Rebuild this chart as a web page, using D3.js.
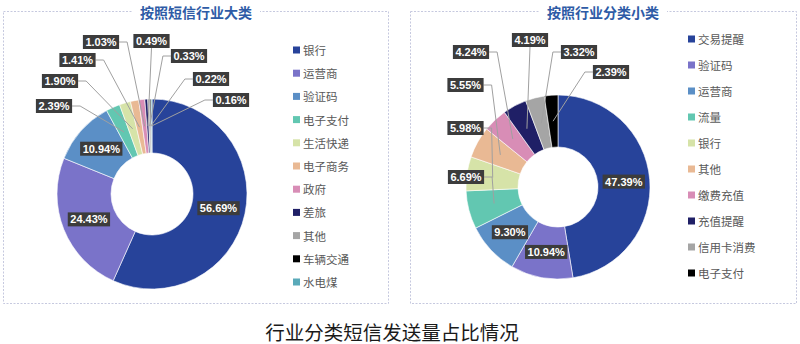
<!DOCTYPE html>
<html>
<head>
<meta charset="utf-8">
<script src="https://cdn.jsdelivr.net/npm/d3@7"></script>
<style>
  html, body { margin: 0; padding: 0; background: #fff; }
  svg { display: block; font-family: "Noto Sans CJK SC", "Noto Sans", sans-serif; }
</style>
</head>
<body>
<svg id="chart" width="800" height="344"></svg>
<script>
// ---------------- data ----------------
const leftTitle = "按照短信行业大类";
const leftCategories = ["银行", "运营商", "验证码", "电子支付", "生活快递", "电子商务", "政府", "差旅", "其他", "车辆交通", "水电煤"];
const leftValues = [56.69, 24.43, 10.94, 2.39, 1.90, 1.41, 1.03, 0.49, 0.33, 0.22, 0.16];

const rightTitle = "按照行业分类小类";
const rightCategories = ["交易提醒", "验证码", "运营商", "流量", "银行", "其他", "缴费充值", "充值提醒", "信用卡消费", "电子支付"];
const rightValues = [47.39, 10.94, 9.30, 6.69, 5.98, 5.55, 4.24, 4.19, 3.32, 2.39];

const caption = "行业分类短信发送量占比情况";

// ---------------- styles / layout ----------------
const leftColors = ["#27439a", "#7a73c9", "#5b8fc6", "#62c7b1", "#d6e3a8", "#e9b994", "#d88db6", "#1f1f66", "#a5a5a5", "#000000", "#5aaab9"];
const rightColors = ["#27439a", "#7a73c9", "#5b8fc6", "#62c7b1", "#d6e3a8", "#e9b994", "#d88db6", "#1f1f66", "#a5a5a5", "#000000"];

// outside label offsets (relative to donut centre) for small slices
const leftLabelOffsets = {3: [-98, -88], 4: [-92, -113], 5: [-74.5, -134], 6: [-51, -152], 7: [-0.5, -153], 8: [37, -138], 9: [59, -115], 10: [79, -94]};
const rightLabelOffsets = {3: [-92, -10], 4: [-92.5, -59], 5: [-92.5, -102], 6: [-87, -135], 7: [-28, -147], 8: [21, -135], 9: [53, -115]};

const svg = d3.select("#chart");

function drawPanel(cfg) {
  const g = svg.append("g");
  // dotted frame
  g.append("rect")
    .attr("x", cfg.box[0] + 0.5).attr("y", cfg.box[1] + 0.5)
    .attr("width", cfg.box[2]).attr("height", cfg.box[3])
    .attr("fill", "none").attr("stroke", "#c6c9df")
    .attr("stroke-width", 1).attr("stroke-dasharray", "2,1.5");

  // title with white backdrop
  const t = g.append("text")
    .attr("x", cfg.titleX).attr("y", 18)
    .attr("text-anchor", "middle")
    .attr("font-size", 14).attr("font-weight", "bold")
    .attr("fill", "#2e5ba6")
    .text(cfg.title);
  const tb = t.node().getBBox();
  g.insert("rect", "text")
    .attr("x", tb.x - 8).attr("y", 4).attr("width", tb.width + 16).attr("height", 16)
    .attr("fill", "#fff");

  const pie = d3.pie().sort(null).value(d => d);
  const arcs = pie(cfg.values);
  const arc = d3.arc().innerRadius(cfg.r).outerRadius(cfg.R);
  const mid = (cfg.R + cfg.r) / 2;
  const cArc = d3.arc().innerRadius(mid).outerRadius(mid);

  const dg = g.append("g").attr("transform", `translate(${cfg.cx},${cfg.cy})`);
  dg.selectAll("path.slice").data(arcs).join("path")
    .attr("class", "slice")
    .attr("d", arc)
    .attr("fill", (d, i) => cfg.colors[i])
    .attr("stroke", "#ffffff").attr("stroke-width", 0.6);

  const lineG = dg.append("g");
  const labG = dg.append("g");

  arcs.forEach((d, i) => {
    const txt = cfg.values[i].toFixed(2) + "%";
    const c = cArc.centroid(d);
    let L;
    const off = cfg.offsets[i];
    if (off) L = off; else L = c;
    const lab = labG.append("g");
    const te = lab.append("text")
      .attr("x", L[0]).attr("y", L[1])
      .attr("text-anchor", "middle").attr("dominant-baseline", "central")
      .attr("font-family", "'Liberation Sans', Arial, sans-serif")
      .attr("font-size", 11).attr("font-weight", "bold")
      .attr("fill", "#ffffff")
      .text(txt);
    const w = te.node().getComputedTextLength() + 5;
    const h = 14;
    lab.insert("rect", "text")
      .attr("x", L[0] - w / 2).attr("y", L[1] - h / 2)
      .attr("width", w).attr("height", h)
      .attr("fill", "#3c3c3c");
    if (off) {
      let pts;
      if (Math.abs(L[0] - c[0]) < w / 2 + 2) {
        pts = [[L[0], L[1] + h / 2], c];
      } else if (L[0] < c[0]) {
        pts = [[L[0] + w / 2, L[1]], [L[0] + w / 2 + 8, L[1]], c];
      } else {
        pts = [[L[0] - w / 2, L[1]], [L[0] - w / 2 - 8, L[1]], c];
      }
      lineG.append("path")
        .attr("d", d3.line()(pts))
        .attr("fill", "none").attr("stroke", "#a0a0a0").attr("stroke-width", 1);
    }
  });

  // legend
  const lg = g.append("g");
  cfg.categories.forEach((name, i) => {
    const y = cfg.legY + i * cfg.legStep;
    lg.append("rect")
      .attr("x", cfg.legX).attr("y", y - 3.5).attr("width", 7).attr("height", 7)
      .attr("fill", cfg.colors[i]);
    lg.append("text")
      .attr("x", cfg.legX + 10).attr("y", y)
      .attr("dominant-baseline", "central")
      .attr("font-size", 11.5).attr("fill", "#595959")
      .text(name);
  });
}

drawPanel({
  box: [3, 11, 385, 292], title: leftTitle, titleX: 196,
  cx: 152, cy: 194, R: 95, r: 41,
  values: leftValues, categories: leftCategories, colors: leftColors,
  offsets: leftLabelOffsets, legX: 293, legY: 50, legStep: 23.2
});

drawPanel({
  box: [410, 11, 386, 292], title: rightTitle, titleX: 603,
  cx: 558, cy: 187, R: 92, r: 40,
  values: rightValues, categories: rightCategories, colors: rightColors,
  offsets: rightLabelOffsets, legX: 688, legY: 39, legStep: 26
});

svg.append("text")
  .attr("x", 392).attr("y", 331)
  .attr("text-anchor", "middle").attr("dominant-baseline", "central")
  .attr("font-size", 19.5).attr("fill", "#1a1a1a")
  .text(caption);
</script>
</body>
</html>
